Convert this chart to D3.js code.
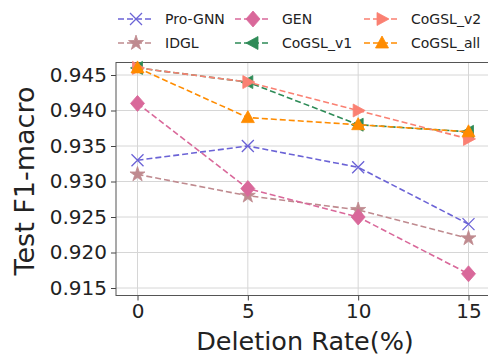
<!DOCTYPE html>
<html>
<head>
<meta charset="utf-8">
<script src="https://cdn.jsdelivr.net/npm/d3@7"></script>
<style>
	body { margin: 0; background: #fff; }
	text { font-family: "DejaVu Sans", sans-serif; fill: #222; }
</style>
</head>
<body>
<div id="chart"></div>
<script>
(function () {
	"use strict";

	var WIDTH = 488;
	var HEIGHT = 356;

	var rates = [0, 5, 10, 15];
	var yTicks = [0.915, 0.920, 0.925, 0.930, 0.935, 0.940, 0.945];

	var seriesNames = ['Pro-GNN', 'IDGL', 'GEN', 'CoGSL_v1', 'CoGSL_v2', 'CoGSL_all'];
	var proGnn = [0.933, 0.935, 0.932, 0.924];
	var idgl = [0.931, 0.928, 0.926, 0.922];
	var gen = [0.941, 0.929, 0.925, 0.917];
	var cogslV1 = [0.946, 0.944, 0.938, 0.937];
	var cogslV2 = [0.946, 0.944, 0.940, 0.936];
	var cogslAll = [0.946, 0.939, 0.938, 0.937];

	var series = [
		{ name: seriesNames[0], values: proGnn, color: '#6b63d6', marker: 'x' },
		{ name: seriesNames[1], values: idgl, color: '#bf8a8f', marker: 'star' },
		{ name: seriesNames[2], values: gen, color: '#d9689a', marker: 'diamond' },
		{ name: seriesNames[3], values: cogslV1, color: '#2e8b57', marker: 'left' },
		{ name: seriesNames[4], values: cogslV2, color: '#fa8072', marker: 'right' },
		{ name: seriesNames[5], values: cogslAll, color: '#ff8c00', marker: 'up' }
	];

	var plot = { left: 116, right: 491, top: 62.5, bottom: 295.5 };

	var x = d3.scaleLinear().domain([0, 15]).range([137.5, 468.5]);
	var y = d3.scaleLinear().domain([0.915, 0.945]).range([288, 75]);

	var svg = d3.select('#chart').append('svg')
		.attr('width', WIDTH)
		.attr('height', HEIGHT);

	// grid
	svg.append('g').selectAll('line.hgrid')
		.data(yTicks).enter().append('line')
		.attr('x1', plot.left).attr('x2', plot.right)
		.attr('y1', function (d) { return y(d); })
		.attr('y2', function (d) { return y(d); })
		.attr('stroke', '#d6d6d6').attr('stroke-width', 1);
	svg.append('g').selectAll('line.vgrid')
		.data(rates).enter().append('line')
		.attr('x1', function (d) { return x(d); })
		.attr('x2', function (d) { return x(d); })
		.attr('y1', plot.top).attr('y2', plot.bottom)
		.attr('stroke', '#d6d6d6').attr('stroke-width', 1);

	// axes
	var yAxis = svg.append('g')
		.attr('transform', 'translate(' + plot.left + ',0)')
		.call(d3.axisLeft(y).tickValues(yTicks).tickFormat(d3.format('.3f')).tickSize(5).tickPadding(4));
	var xAxis = svg.append('g')
		.attr('transform', 'translate(0,' + plot.bottom + ')')
		.call(d3.axisBottom(x).tickValues(rates).tickSize(5).tickPadding(3));
	[xAxis, yAxis].forEach(function (axis) {
		axis.select('.domain').remove();
		axis.selectAll('line').attr('stroke', '#444');
		axis.selectAll('text')
			.attr('font-size', 20)
			.attr('font-family', '"DejaVu Sans", sans-serif')
			.attr('fill', '#222');
	});

	// frame
	svg.append('rect')
		.attr('x', plot.left).attr('y', plot.top)
		.attr('width', plot.right - plot.left).attr('height', plot.bottom - plot.top)
		.attr('fill', 'none').attr('stroke', '#555').attr('stroke-width', 1);

	// axis titles
	svg.append('text')
		.attr('x', 305).attr('y', 350)
		.attr('text-anchor', 'middle').attr('font-size', 25.5)
		.text('Deletion Rate(%)');
	svg.append('text')
		.attr('transform', 'translate(34,181) rotate(-90)')
		.attr('text-anchor', 'middle').attr('font-size', 27)
		.text('Test F1-macro');

	function markerPath(kind) {
		if (kind === 'x') return 'M-6,-6L6,6M-6,6L6,-6';
		if (kind === 'star') return d3.symbol(d3.symbolStar, 70)();
		if (kind === 'diamond') return 'M0,-8L7,0L0,8L-7,0Z';
		if (kind === 'up') return 'M0,-7L6.5,5L-6.5,5Z';
		if (kind === 'left') return 'M-7,0L5,-6.5L5,6.5Z';
		return 'M7,0L-5,-6.5L-5,6.5Z';
	}

	function drawMarker(g, s, cx, cy) {
		var p = g.append('path')
			.attr('d', markerPath(s.marker))
			.attr('transform', 'translate(' + cx + ',' + cy + ')');
		if (s.marker === 'x') {
			p.attr('fill', 'none').attr('stroke', s.color).attr('stroke-width', 1.3);
		} else {
			p.attr('fill', s.color).attr('stroke', s.color).attr('stroke-width', 0.8);
		}
	}

	var line = d3.line()
		.x(function (d, i) { return x(rates[i]); })
		.y(function (d) { return y(d); });

	var lines = svg.append('g');
	series.forEach(function (s) {
		var g = lines.append('g');
		g.append('path')
			.attr('d', line(s.values))
			.attr('fill', 'none')
			.attr('stroke', s.color)
			.attr('stroke-width', 1.6)
			.attr('stroke-dasharray', '6,3');
		s.values.forEach(function (v, i) {
			drawMarker(g, s, x(rates[i]), y(v));
		});
	});

	// legend, filled column by column
	var legendCols = [118, 235, 364];
	var legendRows = [19, 43];
	var legend = svg.append('g');
	series.forEach(function (s, i) {
		var lx = legendCols[Math.floor(i / 2)];
		var ly = legendRows[i % 2];
		var g = legend.append('g');
		g.append('line')
			.attr('x1', lx).attr('x2', lx + 36)
			.attr('y1', ly).attr('y2', ly)
			.attr('stroke', s.color).attr('stroke-width', 1.6)
			.attr('stroke-dasharray', '6,3');
		drawMarker(g, s, lx + 18, ly);
		g.append('text')
			.attr('x', lx + 47).attr('y', ly + 5)
			.attr('font-size', 14)
			.text(s.name);
	});
}());
</script>
</body>
</html>
